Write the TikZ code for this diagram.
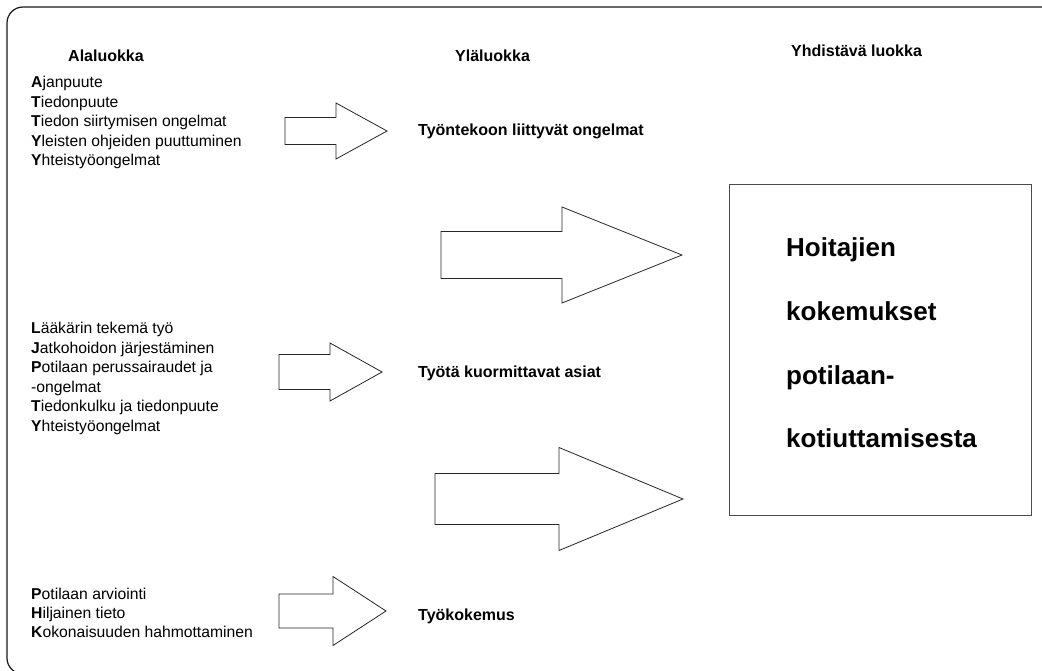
\documentclass[tikz,border=0pt]{standalone}
\usepackage{fontspec}
\setmainfont{Liberation Sans}
\newcommand\BlockArrow[6]{% tail x, head base x, tip x, centre y, shaft half height, head half height
  \draw[blockarr] (#1,#4-#5) -- (#2,#4-#5) -- (#2,#4-#6) -- (#3,#4) -- (#2,#4+#6) -- (#2,#4+#5) -- (#1,#4+#5) -- cycle;}
\begin{document}
\begin{tikzpicture}[x=1pt,y=-1pt,
  listitem/.style={anchor=base west, inner sep=0pt, font=\fontsize{15.7}{19}\selectfont},
  classlbl/.style={anchor=base west, inner sep=0pt, font=\fontsize{16}{19}\selectfont\bfseries},
  bigtext/.style={anchor=base west, inner sep=0pt, font=\fontsize{26}{30}\selectfont\bfseries},
  blockarr/.style={draw=black!85, line width=0.8pt, fill=white, line join=miter},
]
\useasboundingbox (0,0) rectangle (1042,671);
\fill[white] (0,0) rectangle (1042,671);
\begin{scope}
  \clip (0,0) rectangle (1042,671);
  \draw[line width=1.2pt, black!90, rounded corners=16pt] (7,7) rectangle (1057,674);
\end{scope}

% headers
\node[classlbl] (hA) at (68,62) {Alaluokka};
\node[classlbl] (hY) at (455,62) {Yläluokka};
\node[classlbl] (hC) at (791,57) {Yhdistävä luokka};

% first group
\node[listitem] (a1) at (31,88)   {\textbf{A}janpuute};
\node[listitem] (a2) at (31,107.5){\textbf{T}iedonpuute};
\node[listitem] (a3) at (31,127)  {\textbf{T}iedon siirtymisen ongelmat};
\node[listitem] (a4) at (31,146.5){\textbf{Y}leisten ohjeiden puuttuminen};
\node[listitem] (a5) at (31,166)  {\textbf{Y}hteistyöongelmat};

% second group
\node[listitem] (b1) at (31,333.5){\textbf{L}ääkärin tekemä työ};
\node[listitem] (b2) at (31,353)  {\textbf{J}atkohoidon järjestäminen};
\node[listitem] (b3) at (31,372.5){\textbf{P}otilaan perussairaudet ja};
\node[listitem] (b4) at (31,392)  {-ongelmat};
\node[listitem] (b5) at (31,411.5){\textbf{T}iedonkulku ja tiedonpuute};
\node[listitem] (b6) at (31,431)  {\textbf{Y}hteistyöongelmat};

% third group
\node[listitem] (c1) at (31,599.5){\textbf{P}otilaan arviointi};
\node[listitem] (c2) at (31,618.5){\textbf{H}iljainen tieto};
\node[listitem] (c3) at (31,637.5){\textbf{K}okonaisuuden hahmottaminen};

% upper classes
\node[classlbl] (u1) at (418,136) {Työntekoon liittyvät ongelmat};
\node[classlbl] (u2) at (418,377) {Työtä kuormittavat asiat};
\node[classlbl] (u3) at (418,620) {Työkokemus};

% block arrows
\BlockArrow{285}{336}{387}{131}{13.5}{28}
\BlockArrow{441}{562}{682}{255}{23.5}{48}
\BlockArrow{279}{330}{382}{372}{17.5}{29}
\BlockArrow{435}{559}{683}{499}{25.5}{51.5}
\BlockArrow{279}{333}{386}{611}{17}{34.5}

% combining class box
\node[draw=black!70, line width=1.3pt, anchor=north west, inner sep=0pt,
      minimum width=302pt, minimum height=331pt] (box) at (729,184) {};
\node[bigtext] (t1) at (786,257)   {Hoitajien};
\node[bigtext] (t2) at (786,320.5) {kokemukset};
\node[bigtext] (t3) at (786,384)   {potilaan-};
\node[bigtext] (t4) at (786,447.5) {kotiuttamisesta};
\end{tikzpicture}
\end{document}
